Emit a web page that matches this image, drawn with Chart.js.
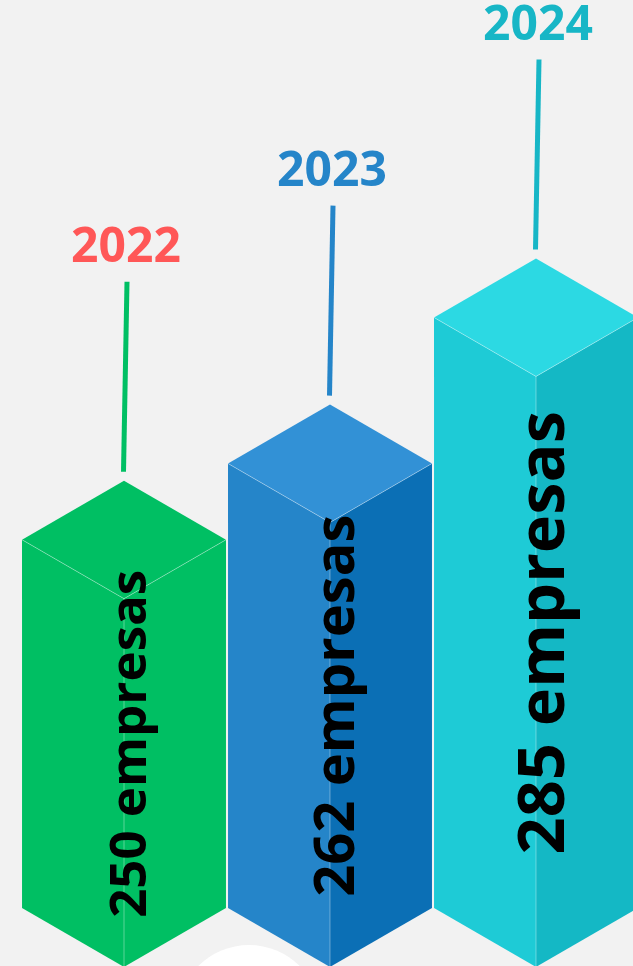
<!DOCTYPE html>
<html>
<head>
<meta charset="utf-8">
<script src="https://cdn.jsdelivr.net/npm/chart.js@4.4.1/dist/chart.umd.min.js"></script>
<style>
    html, body { margin: 0; padding: 0; background: #f2f2f2; overflow: hidden; }
    #wrap { position: absolute; left: 0; top: 0; width: 660px; height: 966px; }
</style>
</head>
<body>
<div id="wrap"><canvas id="empresas-chart"></canvas></div>
<script>
// dados do gráfico
const anos = ["2022", "2023", "2024"];
const empresas = [250, 262, 285];
const rotulos = ["250 empresas", "262 empresas", "285 empresas"];

// cores de cada barra (face esquerda, face direita, topo)
const coresEsq = ["#00bf63", "#2585c9", "#1ecbd6"];
const coresDir = ["#00bf63", "#0b6fb5", "#14b8c5"];
const coresTopo = ["#00bf63", "#3291d6", "#2cd9e3"];
const coresAno = ["#ff5757", "#2585c9", "#17b6c6"];
const coresLinha = ["#00bf63", "#2585c9", "#17b6c6"];
const tamanhoTexto = [51, 56, 65];

const Y_MIN = 192;
const Y_MAX = 335;

function poly(ctx, pts, cor) {
    ctx.beginPath();
    ctx.moveTo(pts[0][0], pts[0][1]);
    for (let i = 1; i < pts.length; i++) ctx.lineTo(pts[i][0], pts[i][1]);
    ctx.closePath();
    ctx.fillStyle = cor;
    ctx.fill();
}

// desenha cada barra como um prisma isométrico
const prisma3d = {
    id: "prisma3d",
    beforeDatasetsDraw(chart) {
        const ctx = chart.ctx;
        // círculo branco decorativo no rodapé
        ctx.save();
        ctx.beginPath();
        ctx.arc(249, 1017, 72, 0, Math.PI * 2);
        ctx.fillStyle = "#ffffff";
        ctx.fill();
        ctx.restore();
    },
    afterDatasetsDraw(chart) {
        const ctx = chart.ctx;
        const meta = chart.getDatasetMeta(0);
        meta.data.forEach((bar, i) => {
            const x = bar.x, y = bar.y, base = bar.base;
            const hw = bar.width / 2;
            const d = hw * 0.578; // profundidade isométrica
            ctx.save();
            // face esquerda
            poly(ctx, [[x - hw, y], [x, y + d], [x, base + d], [x - hw, base]], coresEsq[i]);
            // face direita
            poly(ctx, [[x, y + d], [x + hw, y], [x + hw, base], [x, base + d]], coresDir[i]);
            // topo
            poly(ctx, [[x - hw, y], [x, y - d], [x + hw, y], [x, y + d]], coresTopo[i]);
            // arestas claras
            ctx.strokeStyle = "rgba(255,255,255,0.35)";
            ctx.lineWidth = 1;
            ctx.beginPath();
            ctx.moveTo(x - hw, y); ctx.lineTo(x, y + d); ctx.lineTo(x + hw, y);
            ctx.moveTo(x, y + d); ctx.lineTo(x, base + d);
            ctx.stroke();

            // linha vertical e ano
            const topo = y - d;
            ctx.strokeStyle = coresLinha[i];
            ctx.lineWidth = 5;
            ctx.beginPath();
            ctx.moveTo(x - 0.5, topo - 9);
            ctx.lineTo(x + 3, topo - 199);
            ctx.stroke();

            ctx.fillStyle = coresAno[i];
            ctx.font = "bold 48px 'Open Sans'";
            ctx.textAlign = "center";
            ctx.textBaseline = "alphabetic";
            ctx.fillText(anos[i], x + 2, topo - 219);

            // texto vertical dentro da barra
            const fs = tamanhoTexto[i];
            ctx.translate(x + fs * 0.43, (y + base) / 2 + 20);
            ctx.rotate(-Math.PI / 2);
            ctx.fillStyle = "#000000";
            ctx.font = "bold " + fs + "px 'Open Sans'";
            ctx.fillText(rotulos[i], 0, 0);
            ctx.restore();
        });
    }
};

new Chart(document.querySelector("#empresas-chart"), {
    type: "bar",
    data: {
        labels: anos,
        datasets: [{
            label: "Empresas",
            data: empresas,
            base: Y_MIN,
            backgroundColor: "rgba(0,0,0,0)",
            borderWidth: 0,
            categoryPercentage: 1,
            barPercentage: 0.99
        }]
    },
    options: {
        responsive: true,
        maintainAspectRatio: false,
        animation: false,
        layout: { padding: { left: 21, right: 21, top: 0, bottom: 58 } },
        plugins: {
            legend: { display: false },
            tooltip: { enabled: false }
        },
        scales: {
            x: { display: false },
            y: { display: false, min: Y_MIN, max: Y_MAX }
        }
    },
    plugins: [prisma3d]
});
</script>
</body>
</html>
